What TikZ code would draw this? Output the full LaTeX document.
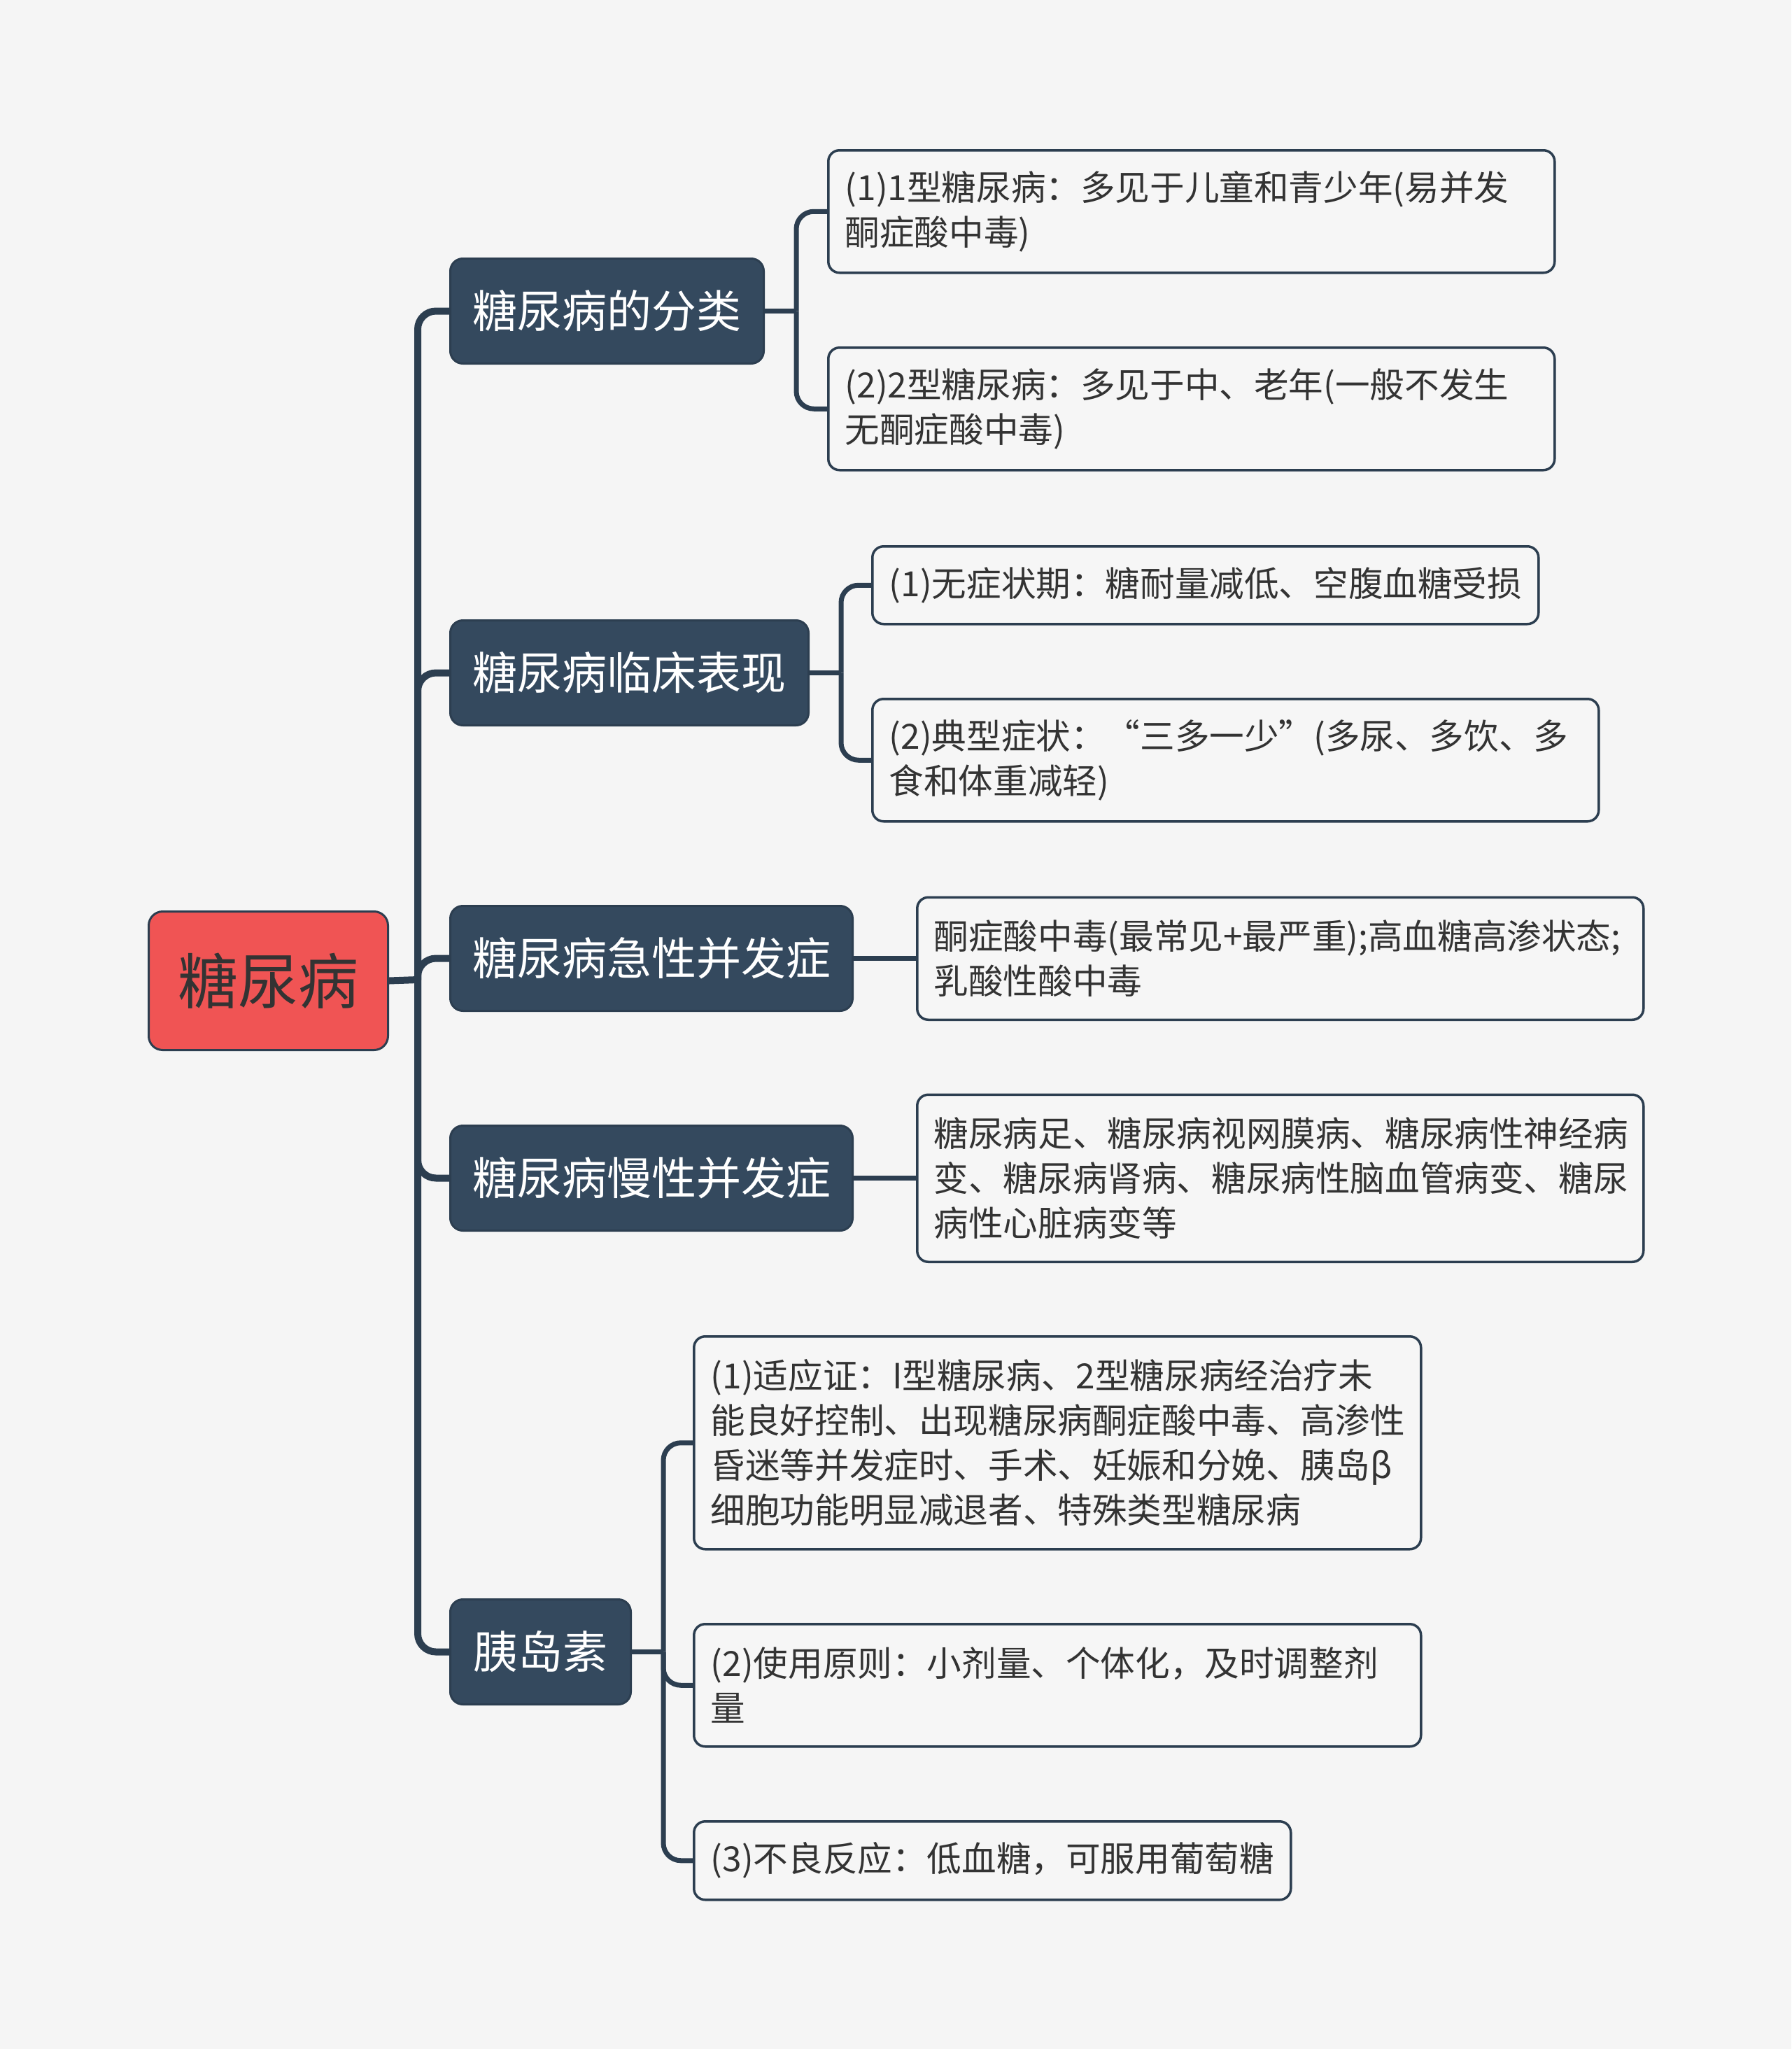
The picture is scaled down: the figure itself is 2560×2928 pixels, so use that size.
\documentclass[tikz,border=0pt]{standalone}
\usepackage{fontspec}
\setmainfont{Noto Sans CJK SC}
\definecolor{bg}{HTML}{F5F5F5}
\definecolor{leafbg}{HTML}{F6F6F6}
\definecolor{navy}{HTML}{34495E}
\definecolor{linec}{HTML}{2C3E50}
\definecolor{rootred}{HTML}{F05454}
\definecolor{txt}{HTML}{333333}
\tikzset{
  rootbox/.style={draw=linec, line width=3pt, fill=rootred, rounded corners=20pt,
    anchor=north west, inner sep=0pt, text=txt, font={\fontsize{86pt}{100pt}\selectfont}},
  branchbox/.style={draw=linec, line width=3pt, fill=navy, rounded corners=18pt,
    anchor=north west, inner sep=0pt, text=white, minimum height=150pt,
    font={\fontsize{64pt}{76pt}\selectfont}},
  leafbox/.style={draw=linec, line width=3.5pt, fill=leafbg, rounded corners=16pt,
    anchor=north west, inner xsep=24pt, inner ysep=0pt, align=left, text=txt,
    font={\fontsize{49.6pt}{64pt}\selectfont}},
  trunk/.style={draw=linec, line width=10pt},
  twig/.style={draw=linec, line width=7pt},
}
\begin{document}
\begin{tikzpicture}[x=1pt,y=1pt]
\useasboundingbox (0,0) rectangle (2560,-2928);
\fill[bg] (0,0) rectangle (2560,-2928);

% root
\node[rootbox, minimum width=342pt, minimum height=198pt] (root) at (211,-1301) {糖尿病};

% branches
\node[branchbox, minimum width=448pt] (b1) at (642,-368) {糖尿病的分类};
\node[branchbox, minimum width=512pt] (b2) at (642,-885) {糖尿病临床表现};
\node[branchbox, minimum width=575pt] (b3) at (642,-1293) {糖尿病急性并发症};
\node[branchbox, minimum width=575pt] (b4) at (642,-1607) {糖尿病慢性并发症};
\node[branchbox, minimum width=258pt] (b5) at (642,-2284) {胰岛素};

% leaves
\node[leafbox, minimum width=1038pt, minimum height=175pt, text width=990pt] (l1) at (1182,-213)
  {(1)1型糖尿病：多见于儿童和青少年(易并发\\酮症酸中毒)};
\node[leafbox, minimum width=1038pt, minimum height=175pt, text width=990pt] (l2) at (1182,-495)
  {(2)2型糖尿病：多见于中、老年(一般不发生\\无酮症酸中毒)};
\node[leafbox, minimum width=952pt, minimum height=111pt, text width=904pt] (l3) at (1245,-779)
  {(1)无症状期：糖耐量减低、空腹血糖受损};
\node[leafbox, minimum width=1038pt, minimum height=175pt, text width=990pt] (l4) at (1245,-997)
  {(2)典型症状：“三多一少”(多尿、多饮、多\\食和体重减轻)};
\node[leafbox, minimum width=1038pt, minimum height=175pt, text width=990pt] (l5) at (1309,-1280.5)
  {酮症酸中毒(最常见+最严重);高血糖高渗状态;\\乳酸性酸中毒};
\node[leafbox, minimum width=1038pt, minimum height=239pt, text width=990pt] (l6) at (1309,-1562.5)
  {糖尿病足、糖尿病视网膜病、糖尿病性神经病\\变、糖尿病肾病、糖尿病性脑血管病变、糖尿\\病性心脏病变等};
\node[leafbox, minimum width=1039pt, minimum height=304pt, text width=991pt] (l7) at (990,-1908)
  {(1)适应证：I型糖尿病、2型糖尿病经治疗未\\能良好控制、出现糖尿病酮症酸中毒、高渗性\\昏迷等并发症时、手术、妊娠和分娩、胰岛β\\细胞功能明显减退者、特殊类型糖尿病};
\node[leafbox, minimum width=1039pt, minimum height=175pt, text width=991pt] (l8) at (990,-2319)
  {(2)使用原则：小剂量、个体化，及时调整剂\\量};
\node[leafbox, minimum width=853pt, minimum height=112pt, text width=805pt] (l9) at (990,-2601)
  {(3)不良反应：低血糖，可服用葡萄糖};

% trunk connectors
\coordinate (rj) at (597,-1400);
\draw[trunk] (root.east) -- (rj);
\foreach \b in {b1,b2,b3,b4,b5}
  \draw[trunk, rounded corners=26pt] (rj) |- (\b.west);

% leaf connectors
\draw[twig] (b1.east) -- ++(45,0) coordinate (j1);
\draw[twig, rounded corners=25pt] (j1) |- (l1.west);
\draw[twig, rounded corners=25pt] (j1) |- (l2.west);

\draw[twig] (b2.east) -- ++(45,0) coordinate (j2);
\draw[twig, rounded corners=25pt] (j2) |- (l3.west);
\draw[twig, rounded corners=25pt] (j2) |- (l4.west);

\draw[twig] (b3.east) -- (b3.east -| l5.west);
\draw[twig] (b4.east) -- (b4.east -| l6.west);

\draw[twig] (b5.east) -- ++(45,0) coordinate (j5);
\draw[twig, rounded corners=25pt] (j5) |- (l7.west);
\draw[twig, rounded corners=25pt] (j5) |- (l8.west);
\draw[twig, rounded corners=25pt] (j5) |- (l9.west);
\end{tikzpicture}
\end{document}
